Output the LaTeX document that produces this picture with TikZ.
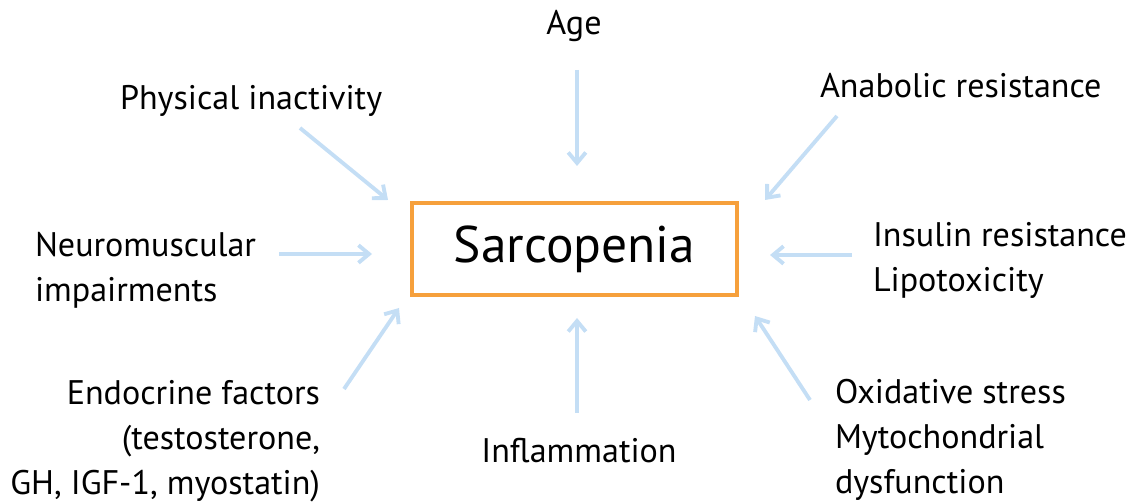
\documentclass[tikz,border=0pt]{standalone}
\usepackage{fontspec}
\setmainfont{PT Sans}
\usepackage{tikz}
\usetikzlibrary{arrows.meta, positioning}
\usepackage{xcolor}
\definecolor{boxorange}{RGB}{246,160,60}
\definecolor{arrowblue}{RGB}{196,222,245}
\tikzstyle{factor}  = [inner sep=0pt, outer sep=0pt, font=\fontsize{19.4}{25.6}\selectfont]
\tikzstyle{mainbox} = [rectangle, draw=boxorange, line width=1.9pt, minimum width=6.5cm,
                       minimum height=1.84cm, font=\fontsize{29.3}{34}\selectfont]
\tikzstyle{feed}    = [arrowblue, line width=2.2pt, -{Straight Barb[length=6pt,width=10pt]}]

\begin{document}
\begin{tikzpicture}[x=0.02cm, y=-0.02cm]
                \useasboundingbox (0,0) rectangle (1135,502);
                \node (sarc) [mainbox] at (574.5,249) {Sarcopenia};
                \node (age)   [factor, anchor=base] at (574,35) {Age};
                \node (phys)  [factor, anchor=base west] at (120,110) {Physical inactivity};
                \node (anab)  [factor, anchor=base west] at (820,98) {Anabolic resistance};
                \node (neuro) [factor, anchor=base west] at (35,257)
                      {\begin{tabular}[t]{@{}l@{}}Neuromuscular\\impairments\end{tabular}};
                \node (insul) [factor, anchor=base west] at (873,247)
                      {\begin{tabular}[t]{@{}l@{}}Insulin resistance\\Lipotoxicity\end{tabular}};
                \node (endo)  [factor, anchor=base east] at (320,405)
                      {\begin{tabular}[t]{@{}r@{}}Endocrine factors\\(testosterone,\\GH, IGF-1, myostatin)\end{tabular}};
                \node (infl)  [factor, anchor=base] at (579,463) {Inflammation};
                \node (oxid)  [factor, anchor=base west] at (835,404)
                      {\begin{tabular}[t]{@{}l@{}}Oxidative stress\\Mytochondrial\\dysfunction\end{tabular}};
                % free ends of the arrows
                \coordinate (age-t) at (577,70);   \coordinate (age-h) at (577,166);
                \coordinate (phys-t) at (300,128); \coordinate (phys-h) at (388,200);
                \coordinate (anab-t) at (837,116); \coordinate (anab-h) at (765,200);
                \coordinate (neuro-t) at (279,254); \coordinate (neuro-h) at (372,254);
                \coordinate (insul-t) at (852,255); \coordinate (insul-h) at (770,255);
                \coordinate (endo-t) at (344,389); \coordinate (endo-h) at (399,308);
                \coordinate (infl-t) at (577,413); \coordinate (infl-h) at (577,318);
                \coordinate (oxid-t) at (810,400); \coordinate (oxid-h) at (755,316);
                \draw[feed] (age-t)--(age-h);     \draw[feed] (phys-t)--(phys-h);
                \draw[feed] (anab-t)--(anab-h);   \draw[feed] (neuro-t)--(neuro-h);
                \draw[feed] (insul-t)--(insul-h); \draw[feed] (endo-t)--(endo-h);
                \draw[feed] (infl-t)--(infl-h);   \draw[feed] (oxid-t)--(oxid-h);
            \end{tikzpicture}
\end{document}
